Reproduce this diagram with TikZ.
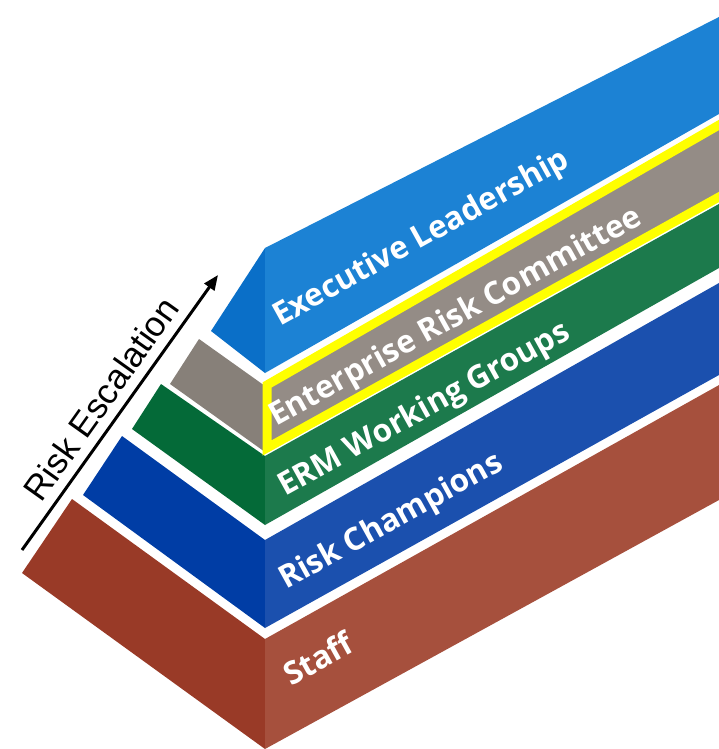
\documentclass[tikz,border=0pt]{standalone}
\usepackage{fontspec}
\usetikzlibrary{arrows.meta}
\newfontfamily\layerfont{Open Sans}
\newfontfamily\escfont{Liberation Sans}
\definecolor{execSide}{HTML}{0A6FC8}
\definecolor{execFront}{HTML}{1C82D4}
\definecolor{ercSide}{HTML}{878079}
\definecolor{ercFront}{HTML}{948C86}
\definecolor{ercYellow}{HTML}{FFFF00}
\definecolor{ermSide}{HTML}{046A38}
\definecolor{ermFront}{HTML}{1C7A4C}
\definecolor{champSide}{HTML}{003DA5}
\definecolor{champFront}{HTML}{1B50AE}
\definecolor{staffSide}{HTML}{993A27}
\definecolor{staffFront}{HTML}{A6503D}

\begin{document}
\begin{tikzpicture}[x=1pt, y=-1pt,
    layerlabel/.style={text=white, inner sep=0pt, anchor=base west, rotate=29,
        font=\layerfont\bfseries\fontsize{31.5}{38}\selectfont}]
        \useasboundingbox (0,0) rectangle (719,749);
        \clip (0,0) rectangle (719,749);
        % Staff
        \fill[staffSide] (72,499) -- (265,639) -- (265,749) -- (22,573) -- cycle;
        \fill[staffFront] (265,639) -- (740,373.3) -- (740,488.5) -- (265,749) -- cycle;
        % Risk Champions
        \fill[champSide] (122,436) -- (265,540) -- (265,628) -- (83,495) -- cycle;
        \fill[champFront] (265,540) -- (740,271.1) -- (740,363.3) -- (265,628) -- cycle;
        % ERM Working Groups
        \fill[ermSide] (161,384) -- (265,456) -- (265,525) -- (132,429) -- cycle;
        \fill[ermFront] (265,456) -- (740,192.3) -- (740,256.1) -- (265,525) -- cycle;
        % Enterprise Risk Committee
        \fill[ercSide] (199,339) -- (265,386) -- (265,452) -- (170,384) -- cycle;
        \filldraw[fill=ercFront, draw=ercYellow, line width=9pt] (267,385) -- (740,112.9) -- (740,185.3) -- (267,448) -- cycle;
        % Executive Leadership
        \fill[execSide] (265,248) -- (265,373) -- (211,331) -- cycle;
        \fill[execFront] (265,248) -- (740,6.3) -- (740,102) -- (265,373) -- cycle;

        \node[layerlabel] (staffLabel) at (291,687) {Staff};
        \node[layerlabel] (champLabel) at (286,590) {Risk Champions};
        \node[layerlabel] (ermLabel) at (285,497) {ERM Working Groups};
        \node[layerlabel] (ercLabel) at (276,427) {Enterprise Risk Committee};
        \node[layerlabel] (execLabel) at (280,327) {Executive Leadership};

        \coordinate (escStart) at (22,550);
        \coordinate (escEnd) at (218,275);
        \draw[line width=3pt, -{Triangle[length=15pt,width=12pt]}] (escStart) -- (escEnd)
            node[midway, sloped, above, inner sep=0pt, yshift=9pt, font=\escfont\fontsize{35}{42}\selectfont] (escLabel) {Risk Escalation};
\end{tikzpicture}
\end{document}
